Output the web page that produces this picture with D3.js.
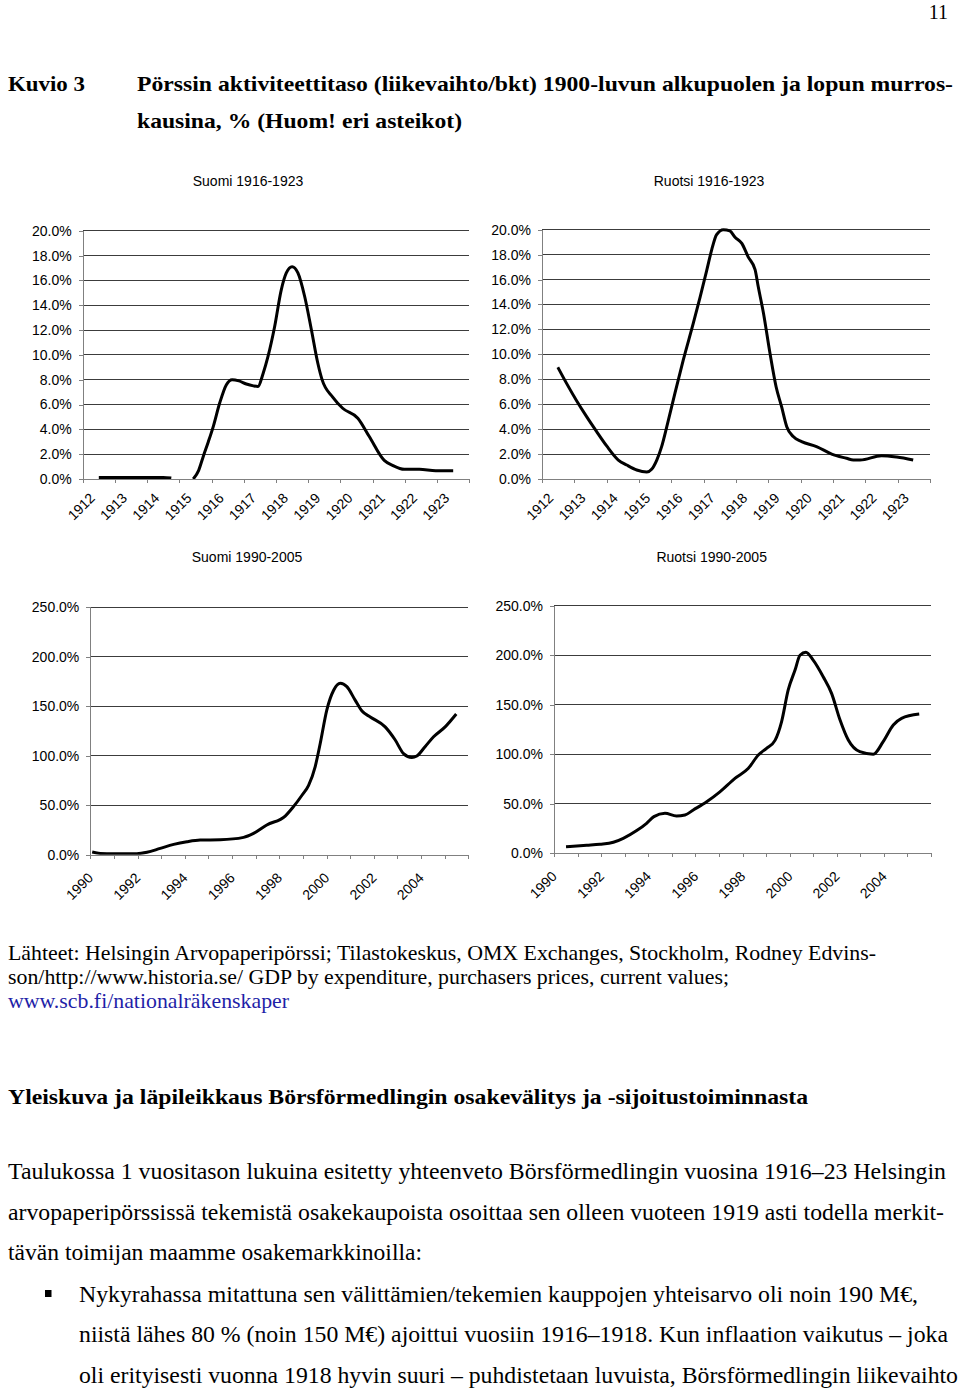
<!DOCTYPE html>
<html>
<head>
<meta charset="utf-8">
<script src="https://cdn.jsdelivr.net/npm/d3@7"></script>
<style>
  html, body { margin: 0; padding: 0; background: #fff; }
  svg { display: block; }
</style>
</head>
<body>
<svg id="page" width="960" height="1390"></svg>
<script>
// ---------------- DATA ----------------
const earlyYears = [1912,1913,1914,1915,1916,1917,1918,1919,1920,1921,1922,1923];
const lateYears = [1990,1991,1992,1993,1994,1995,1996,1997,1998,1999,2000,2001,2002,2003,2004,2005];
const lateLabelYears = [1990,1992,1994,1996,1998,2000,2002,2004];
const earlyYTicks = [0,2,4,6,8,10,12,14,16,18,20];
const lateYTicks = [0,50,100,150,200,250];

// Suomi 1912-1923 (turnover / GDP, %), positions in fractional years
const suomiEarlyX = [1912.5,1913.0,1913.5,1914.0,1914.5,1914.75,1915.0,1915.43,1915.6,1915.74,1915.9,1916.05,1916.25,1916.46,1916.64,1916.85,1917.08,1917.3,1917.44,1917.6,1917.75,1917.96,1918.16,1918.32,1918.5,1918.68,1918.89,1919.1,1919.3,1919.43,1919.76,1920.07,1920.54,1920.9,1921.36,1921.62,1921.98,1922.45,1922.96,1923.5];
const suomiEarlyY = [0.13,0.13,0.13,0.13,0.13,0.08,null,0,0.7,1.8,3.0,4.2,6.1,7.6,8.0,7.9,7.65,7.5,7.45,8.5,9.85,12.3,15.2,16.6,17.1,16.6,14.7,12.0,9.3,8.0,6.6,5.7,4.9,3.4,1.5,1.1,0.78,0.78,0.67,0.67];

// Ruotsi 1912-1923
const ruotsiEarlyX = [1912.49,1912.76,1913.07,1913.38,1913.69,1914.0,1914.36,1914.62,1914.93,1915.24,1915.39,1915.55,1915.7,1915.86,1916.11,1916.37,1916.68,1916.89,1917.1,1917.25,1917.4,1917.61,1917.81,1917.97,1918.18,1918.38,1918.59,1918.69,1918.85,1919.05,1919.24,1919.41,1919.57,1919.77,1920.03,1920.49,1920.96,1921.42,1921.63,1921.84,1922.5,1922.97,1923.48];
const ruotsiEarlyY = [8.96,7.67,6.28,5.0,3.8,2.65,1.52,1.12,0.72,0.56,0.78,1.52,2.6,4.2,6.87,9.55,12.5,14.6,16.8,18.4,19.6,20.0,19.9,19.4,18.9,17.8,16.8,15.4,13.3,10.1,7.4,5.8,4.2,3.4,3.0,2.6,2.0,1.66,1.52,1.52,1.87,1.76,1.52];

// Suomi 1990-2005
const suomiLateX = [1990.08,1990.42,1990.99,1991.97,1992.4,1992.96,1993.53,1994.09,1994.65,1995.5,1996.49,1996.91,1997.47,1998.25,1998.6,1998.96,1999.24,1999.52,1999.73,2000.01,2000.3,2000.58,2000.86,2001.21,2001.5,2001.85,2002.48,2002.9,2003.26,2003.61,2003.82,2004.17,2004.53,2005.02,2005.49];
const suomiLateY = [2.7,1.3,1.0,1.0,2.4,6.4,10.4,13.1,14.8,15.1,17.5,21.5,30,39,48.5,60,70,89,112,146,166,173,169.6,156,145,139,129,116,102,98,99.6,109,119,129,142];

// Ruotsi 1990-2005
const ruotsiLateX = [1990.51,1991.39,1991.95,1992.52,1992.94,1993.51,1993.93,1994.24,1994.71,1995.2,1995.56,1995.91,1996.48,1997.04,1997.68,1998.25,1998.67,1999.02,1999.38,1999.66,1999.94,2000.23,2000.44,2000.69,2001.0,2001.43,2001.78,2002.14,2002.49,2002.98,2003.55,2003.97,2004.4,2004.75,2005.5];
const ruotsiLateY = [6.7,8.1,9.1,11.1,15.1,22.9,30.3,37,40.4,37.7,38.7,43.7,52,62,75.7,85.8,99.3,106,114,133,165,185,200,203,195,178,161.5,134.6,114.4,102.6,100,112.7,129.5,136.3,140.6];

// ---------------- DRAW ----------------
const svg = d3.select("#page");
const SANS = "'Liberation Sans', Arial, sans-serif";
const SERIF = "'Liberation Serif', 'Times New Roman', serif";
const fmt = d3.format(".1f");

function drawChart(cfg) {
  const g = svg.append("g");
  const x = d3.scaleLinear().domain(cfg.xDomain).range([cfg.left, cfg.right]);
  const y = d3.scaleLinear().domain(cfg.yDomain).range([cfg.bottom, cfg.top]);

  // title
  g.append("text").attr("x", cfg.titleX).attr("y", cfg.titleY)
    .attr("text-anchor", "middle").attr("font-family", SANS).attr("font-size", 14)
    .text(cfg.title);

  // gridlines
  g.append("g").selectAll("line").data(cfg.yTicks.filter(d => d !== 0)).join("line")
    .attr("x1", cfg.left).attr("x2", cfg.right)
    .attr("y1", d => y(d)).attr("y2", d => y(d))
    .attr("stroke", "#3c3c3c").attr("stroke-width", 1).attr("shape-rendering", "crispEdges");

  // y axis
  const yAxis = d3.axisLeft(y).tickValues(cfg.yTicks).tickSize(4).tickPadding(7)
    .tickFormat(d => fmt(d) + "%");
  const ya = g.append("g").attr("transform", `translate(${cfg.left},0)`).call(yAxis);
  ya.select(".domain").attr("stroke", "#808080").attr("shape-rendering", "crispEdges");
  ya.selectAll(".tick line").attr("stroke", "#808080").attr("shape-rendering", "crispEdges");
  ya.selectAll(".tick text").attr("font-family", SANS).attr("font-size", 14).attr("fill", "#000");

  // x axis (ticks at band edges)
  const edges = d3.range(cfg.xDomain[0], cfg.xDomain[1] + 1);
  const xAxis = d3.axisBottom(x).tickValues(edges).tickSize(4).tickSizeOuter(0).tickFormat("");
  const xa = g.append("g").attr("transform", `translate(0,${cfg.bottom})`).call(xAxis);
  xa.select(".domain").attr("stroke", "#808080").attr("shape-rendering", "crispEdges");
  xa.selectAll(".tick line").attr("stroke", "#808080").attr("shape-rendering", "crispEdges");

  // x labels (rotated, at band centres)
  g.append("g").selectAll("text").data(cfg.labels).join("text")
    .attr("transform", d => `translate(${x(d + 0.5) + cfg.lblDx},${cfg.bottom + cfg.lblDy}) rotate(-45)`)
    .attr("text-anchor", "end").attr("font-family", SANS).attr("font-size", 14)
    .text(d => d);

  // line
  const clipId = "clip" + cfg.id;
  svg.append("clipPath").attr("id", clipId).append("rect")
    .attr("x", cfg.left).attr("y", cfg.top - 2)
    .attr("width", cfg.right - cfg.left).attr("height", cfg.bottom - cfg.top + 2);
  const pts = cfg.xs.map((xv, i) => [xv, cfg.ys[i]]);
  const line = d3.line().defined(d => d[1] !== null)
    .x(d => x(d[0])).y(d => y(d[1])).curve(d3.curveMonotoneX);
  g.append("path").datum(pts).attr("d", line)
    .attr("clip-path", `url(#${clipId})`)
    .attr("fill", "none").attr("stroke", "#000").attr("stroke-width", 3)
    .attr("stroke-linejoin", "round").attr("stroke-linecap", "butt");
}

drawChart({id: 1, title: "Suomi 1916-1923", titleX: 248, titleY: 186,
  left: 82.7, right: 469.3, top: 230.7, bottom: 479,
  xDomain: [1912, 1924], yDomain: [0, 20], yTicks: earlyYTicks,
  labels: earlyYears, lblDx: -3, lblDy: 20, xs: suomiEarlyX, ys: suomiEarlyY});
drawChart({id: 2, title: "Ruotsi 1916-1923", titleX: 709, titleY: 186,
  left: 542, right: 930, top: 229.7, bottom: 479,
  xDomain: [1912, 1924], yDomain: [0, 20], yTicks: earlyYTicks,
  labels: earlyYears, lblDx: -4, lblDy: 20, xs: ruotsiEarlyX, ys: ruotsiEarlyY});
drawChart({id: 3, title: "Suomi 1990-2005", titleX: 247, titleY: 562,
  left: 90.3, right: 468.3, top: 607, bottom: 854.7,
  xDomain: [1990, 2006], yDomain: [0, 250], yTicks: lateYTicks,
  labels: lateLabelYears, lblDx: -8, lblDy: 24, xs: suomiLateX, ys: suomiLateY});
drawChart({id: 4, title: "Ruotsi 1990-2005", titleX: 711.7, titleY: 562,
  left: 554, right: 931, top: 605.7, bottom: 853.3,
  xDomain: [1990, 2006], yDomain: [0, 250], yTicks: lateYTicks,
  labels: lateLabelYears, lblDx: -8, lblDy: 24, xs: ruotsiLateX, ys: ruotsiLateY});

// ---------------- PAGE TEXT ----------------
function txt(s, x, y, opts) {
  const t = svg.append("text").attr("x", x).attr("y", y)
    .attr("font-family", opts.family || SERIF).attr("font-size", opts.size || 22)
    .attr("font-weight", opts.bold ? "bold" : "normal")
    .attr("fill", opts.fill || "#000")
    .attr("text-anchor", opts.anchor || "start")
    .text(s);
  if (opts.len) t.attr("textLength", opts.len).attr("lengthAdjust", "spacingAndGlyphs");
  return t;
}

txt("11", 948, 19, {size: 20, anchor: "end"});
txt("Kuvio 3", 8, 91, {size: 22, bold: true, len: 77});
txt("Pörssin aktiviteettitaso (liikevaihto/bkt) 1900-luvun alkupuolen ja lopun murros-", 137, 91, {size: 22, bold: true, len: 816});
txt("kausina, % (Huom! eri asteikot)", 137, 128, {size: 22, bold: true, len: 325});

txt("Lähteet: Helsingin Arvopaperipörssi; Tilastokeskus, OMX Exchanges, Stockholm, Rodney Edvins-", 8, 960, {size: 21, len: 868});
txt("son/http://www.historia.se/ GDP by expenditure, purchasers prices, current values;", 8, 984, {size: 21, len: 721});
txt("www.scb.fi/nationalräkenskaper", 8, 1008, {size: 21, len: 281, fill: "#1f1fa8"});

txt("Yleiskuva ja läpileikkaus Börsförmedlingin osakevälitys ja -sijoitustoiminnasta", 8, 1104, {size: 22, bold: true, len: 800});

txt("Taulukossa 1 vuositason lukuina esitetty yhteenveto Börsförmedlingin vuosina 1916–23 Helsingin", 8, 1179, {size: 23, len: 938});
txt("arvopaperipörssissä tekemistä osakekaupoista osoittaa sen olleen vuoteen 1919 asti todella merkit-", 8, 1219.5, {size: 23, len: 936});
txt("tävän toimijan maamme osakemarkkinoilla:", 8, 1260, {size: 23, len: 414});

svg.append("rect").attr("x", 45).attr("y", 1290).attr("width", 6.5).attr("height", 7).attr("fill", "#000");
txt("Nykyrahassa mitattuna sen välittämien/tekemien kauppojen yhteisarvo oli noin 190 M€,", 79, 1301.5, {size: 23, len: 839});
txt("niistä lähes 80 % (noin 150 M€) ajoittui vuosiin 1916–1918. Kun inflaation vaikutus – joka", 79, 1342, {size: 23, len: 869});
txt("oli erityisesti vuonna 1918 hyvin suuri – puhdistetaan luvuista, Börsförmedlingin liikevaihto", 79, 1382.5, {size: 23, len: 879});
</script>
</body>
</html>
